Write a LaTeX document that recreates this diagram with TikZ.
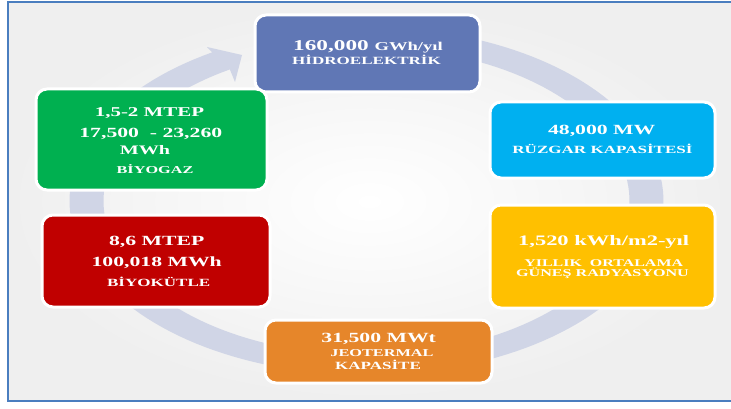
\documentclass[tikz,border=0pt]{standalone}
\usepackage{fontspec}
\newfontfamily\boxfont[FakeStretch=1.55]{Liberation Serif}
\definecolor{hydcol}{HTML}{6077B5}
\definecolor{ruzcol}{HTML}{00B0F0}
\definecolor{guncol}{HTML}{FFC000}
\definecolor{jeocol}{HTML}{E6862A}
\definecolor{kutcol}{HTML}{C00000}
\definecolor{gazcol}{HTML}{00B050}
\definecolor{ringcol}{HTML}{D0D5E6}
\definecolor{framecol}{HTML}{4A7EBF}
\definecolor{edgegray}{HTML}{EFEFEF}
\begin{document}
\begin{tikzpicture}[x=1pt,y=-1pt,
  box/.style={draw=white, line width=3pt, rounded corners=11pt, inner sep=0pt},
  lbl/.style={text=white, anchor=base, inner sep=0pt,
    font=\boxfont\bfseries\fontsize{#1}{#1}\selectfont},
]
\useasboundingbox (0,0) rectangle (731,409);
% soft background panel and its frame
\shade[inner color=white, outer color=edgegray] (8,2) rectangle (731,401);
\draw[framecol, line width=2.5pt] (731,2) -- (8,2) -- (8,401) -- (731,401);

% cycle ring with its arrowhead
\fill[ringcol]
  plot[domain=-75:238.7, samples=150] ({366.5+297*cos(\x)},{201+174*sin(\x)})
  -- (207,47) -- (242,55) -- (235,82)
  -- plot[domain=238.7:-75, samples=150] ({366.5+263*cos(\x)},{201+154*sin(\x)})
  -- cycle;

% boxes
\node[box, fill=hydcol, minimum width=225pt, minimum height=77pt]  (hyd) at (367.5,53.5) {};
\node[box, fill=ruzcol, minimum width=225pt, minimum height=76pt]  (ruz) at (602.5,140) {};
\node[box, fill=guncol, minimum width=225pt, minimum height=103pt] (gun) at (602.5,256.5) {};
\node[box, fill=jeocol, minimum width=227pt, minimum height=63pt]  (jeo) at (378.5,351.5) {};
\node[box, fill=kutcol, minimum width=228pt, minimum height=92pt]  (kut) at (156,261) {};
\node[box, fill=gazcol, minimum width=231pt, minimum height=101pt] (gaz) at (151.5,139.5) {};

% texts
\node[lbl=15] (hyd1) at (368,50.7) {160,000 {\fontsize{12}{12}\selectfont GWh/yıl}};
\node[lbl=11] (hyd2) at (366.5,65) {HİDROELEKTRİK};

\node[lbl=14] (ruz1) at (601.7,135) {48,000 MW};
\node[lbl=11] (ruz2) at (602.5,153.3) {RÜZGAR KAPASİTESİ};

\node[lbl=14.5] (gun1) at (603.7,245.7) {1,520 kWh/m2-yıl};
\node[lbl=10.3] (gun2) at (603.7,266) {YILLIK~~ORTALAMA};
\node[lbl=10.4] (gun3) at (602.5,276) {GÜNEŞ RADYASYONU};

\node[lbl=14] (jeo1) at (378.7,342.7) {31,500 MWt};
\node[lbl=10.5] (jeo2) at (382,356.7) {JEOTERMAL};
\node[lbl=11] (jeo3) at (378,369.3) {KAPASİTE};

\node[lbl=14] (kut1) at (156.7,245) {8,6 MTEP};
\node[lbl=14] (kut2) at (156.7,266.7) {100,018 MWh};
\node[lbl=11] (kut3) at (158.7,286.7) {BİYOKÜTLE};

\node[lbl=13.5] (gaz1) at (149.5,116.7) {1,5-2 MTEP};
\node[lbl=14] (gaz2) at (150.8,137.3) {17,500~~- 23,260};
\node[lbl=13] (gaz3) at (145,154) {MWh};
\node[lbl=10.5] (gaz4) at (155,173.3) {BİYOGAZ};
\end{tikzpicture}
\end{document}
